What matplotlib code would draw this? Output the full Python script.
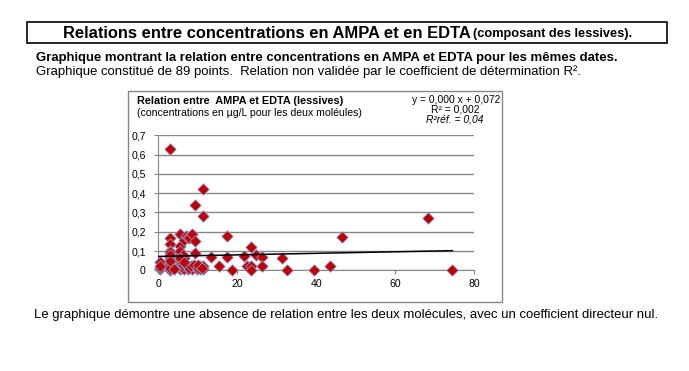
import numpy as np
import matplotlib
matplotlib.use('Agg')
from matplotlib import pyplot as plt
from matplotlib.patches import Rectangle

plt.rcParams['font.family'] = ['Liberation Sans', 'DejaVu Sans']

# concentrations (µg/L) : EDTA en x, AMPA en y
edta = [0.4, 0.4, 0.4, 3, 3, 3, 3, 3, 3, 3, 3, 3, 3, 3, 3, 3,
        5.5, 5.5, 5.5, 5.5, 5.5, 5.5, 5.5, 5.5, 6, 6,
        6.6, 6.6, 6.6, 6.6, 6.6, 7.0, 7.4, 7.4, 7.4, 7.8,
        8.6, 8.6, 8.6, 9.3, 9.3, 9.3, 9.7, 9.7, 10.5, 10.5,
        11.4, 11.4, 11.4, 11.4, 13.3, 15.4, 17.3, 17.4, 18.6,
        21.6, 22.5, 23.6, 23.6, 23.6, 24.7, 26.4, 26.4, 31.4,
        32.6, 39.5, 43.4, 46.5, 68.3, 74.5,
        3, 3, 3, 4, 5.5, 5.5, 6.2, 6.2, 7, 7.8, 8.2, 9, 10, 10, 11,
        0.4, 3, 5.5, 6.6]
ampa = [0.045, 0.005, 0.01, 0.627, 0.17, 0.135, 0.1, 0.095, 0.07, 0.045,
        0.035, 0.02, 0.005, 0.0, 0.01, 0.06,
        0.19, 0.125, 0.07, 0.045, 0.03, 0.005, 0.015, 0.055, 0.04, 0.01,
        0.157, 0.075, 0.065, 0.02, 0.005, 0.18, 0.174, 0.02, 0.005, 0.165,
        0.19, 0.02, 0.005, 0.34, 0.15, 0.09, 0.02, 0.005, 0.02, 0.005,
        0.42, 0.28, 0.02, 0.005, 0.067, 0.022, 0.18, 0.07, 0.003,
        0.075, 0.022, 0.12, 0.02, 0.003, 0.08, 0.067, 0.02, 0.063,
        0.0, 0.0, 0.022, 0.175, 0.27, 0.0,
        0.08, 0.025, 0.012, 0.005, 0.09, 0.1, 0.025, 0.08, 0.03, 0.01,
        0.02, 0.025, 0.01, 0.025, 0.01,
        0.02, 0.05, 0.065, 0.045]

# courbe de tendance
pente = 0.0004
origine = 0.072

W, H = 689, 371
fig = plt.figure(figsize=(W / 100, H / 100), dpi=100)


def fx(px):
    return px / W


def fy(py):
    return 1 - py / H


# cadre du titre
fig.patches.append(Rectangle((fx(27), fy(43)), fx(667) - fx(27), fy(22) - fy(43),
                             transform=fig.transFigure, fill=False,
                             edgecolor='black', linewidth=1.2))
fig.text(fx(63), fy(33), 'Relations entre concentrations en AMPA et en EDTA',
         fontsize=11.9, fontweight='bold', va='center', ha='left')
fig.text(fx(473), fy(34), '(composant des lessives).',
         fontsize=9.2, fontweight='bold', va='center', ha='left')

fig.text(fx(36), fy(58), 'Graphique montrant la relation entre concentrations en AMPA et EDTA pour les mêmes dates.',
         fontsize=9.45, fontweight='bold', va='center', ha='left')
fig.text(fx(36), fy(72), 'Graphique constitué de 89 points.  Relation non validée par le coefficient de détermination R².',
         fontsize=9.45, va='center', ha='left')
fig.text(fx(34), fy(315), 'Le graphique démontre une absence de relation entre les deux molécules, avec un coefficient directeur nul.',
         fontsize=9.45, va='center', ha='left')

# cadre du graphique
fig.patches.append(Rectangle((fx(128), fy(302)), fx(502) - fx(128), fy(91) - fy(302),
                             transform=fig.transFigure, fill=False,
                             edgecolor='#868686', linewidth=1))
fig.text(fx(137), fy(101), 'Relation entre  AMPA et EDTA (lessives)',
         fontsize=7.8, fontweight='bold', va='center', ha='left')
fig.text(fx(137), fy(113), '(concentrations en µg/L pour les deux moléules)',
         fontsize=7.6, va='center', ha='left')
fig.text(fx(456), fy(100), 'y = 0,000 x + 0,072', fontsize=7.4, va='center', ha='center')
fig.text(fx(455), fy(110), 'R² = 0,002', fontsize=7.4, va='center', ha='center')
fig.text(fx(455), fy(120), 'R²réf. = 0,04', fontsize=7.4, style='italic', va='center', ha='center')

ax = fig.add_axes([fx(158.3), fy(270.3), fx(474) - fx(158.3), fy(135.3) - fy(270.3)])
ax.set_xlim(0, 80)
ax.set_ylim(0, 0.7)
ax.set_xticks([0, 20, 40, 60, 80])
ax.set_yticks(np.arange(0, 0.71, 0.1))
ax.set_yticklabels(['0', '0,1', '0,2', '0,3', '0,4', '0,5', '0,6', '0,7'])
ax.tick_params(labelsize=7.6, length=3, color='#868686')
ax.tick_params(axis='y', pad=6)
ax.yaxis.grid(True, color='#868686', linewidth=1)
ax.set_axisbelow(True)
for s in ['top', 'right']:
    ax.spines[s].set_visible(False)
for s in ['left', 'bottom']:
    ax.spines[s].set_color('#868686')

ax.scatter(edta, ampa, marker='D', s=34, color='#C00000',
           edgecolors='#8A9BD0', linewidths=0.6, zorder=3, clip_on=False)

xt = np.array([0, max(edta)])
ax.plot(xt, origine + pente * xt, color='black', linewidth=1.1, zorder=4)

fig.savefig('out.png', dpi=100)
